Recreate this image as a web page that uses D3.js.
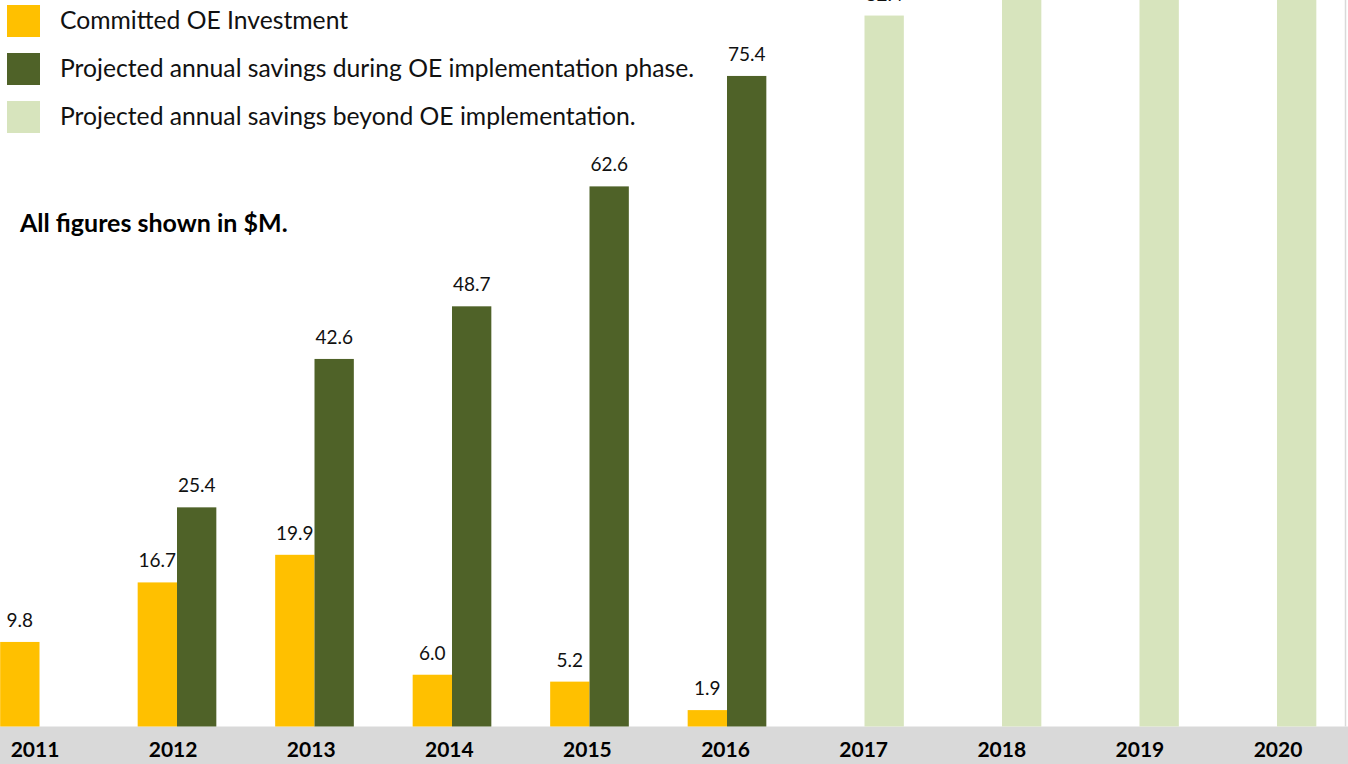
<!DOCTYPE html>
<html>
<head>
<meta charset="utf-8">
<script src="https://cdn.jsdelivr.net/npm/d3@7"></script>
<style>
  html, body { margin: 0; padding: 0; background: #fff; overflow: hidden; }
  svg { display: block; font-family: Lato, "Open Sans", sans-serif; }
</style>
</head>
<body>
<div id="container"></div>
<script>
const years = ["2011", "2012", "2013", "2014", "2015", "2016", "2017", "2018", "2019", "2020"];
const investment = [9.8, 16.7, 19.9, 6.0, 5.2, 1.9, null, null, null, null];
const savingsDuring = [null, 25.4, 42.6, 48.7, 62.6, 75.4, null, null, null, null];
const savingsBeyond = [null, null, null, null, null, null, 82.4, 89.0, 92.0, 95.0];
const legendLabels = [
	"Committed OE Investment",
	"Projected annual savings during OE implementation phase.",
	"Projected annual savings beyond OE implementation."
];
const note = "All figures shown in $M.";

const width = 1348;
const height = 764;
const baseY = 726.5;
const colors = { inv: "#FFC000", during: "#4F6228", beyond: "#D7E4BD" };

const svg = d3.select("#container")
	.append("svg")
		.attr("width", width)
		.attr("height", height);

const x0 = d3.scaleBand()
	.domain(years)
	.range([-29.25, 1345.75]);

const x1 = d3.scaleBand()
	.domain(["inv", "sav"])
	.range([0, x0.bandwidth()])
	.paddingInner(0)
	.paddingOuter(0.748);

const y = d3.scaleLinear()
	.domain([0, 100])
	.range([baseY, baseY - 862.8]);

// label columns of the table under the chart
const xLabel = d3.scalePoint()
	.domain(years)
	.range([35, 1278]);

// table strip under the bars
svg.append("rect")
	.attr("x", 0)
	.attr("y", baseY)
	.attr("width", width)
	.attr("height", height - baseY)
	.style("fill", "#D9D9D9");

// right border of plot
svg.append("line")
	.attr("x1", x0.range()[1] - 0.25)
	.attr("x2", x0.range()[1] - 0.25)
	.attr("y1", 0)
	.attr("y2", baseY)
	.style("stroke", "#D9D9D9")
	.style("stroke-width", 1.5);

const bars = [];
years.forEach((yr, i) => {
	if (investment[i] != null) bars.push({ year: yr, slot: "inv", value: investment[i], color: colors.inv });
	if (savingsDuring[i] != null) bars.push({ year: yr, slot: "sav", value: savingsDuring[i], color: colors.during });
	if (savingsBeyond[i] != null) bars.push({ year: yr, slot: "sav", value: savingsBeyond[i], color: colors.beyond });
});

const items = svg.selectAll(".bar")
	.data(bars)
		.enter()
	.append("g")
		.attr("class", "bar");

items.append("rect")
	.attr("x", (d) => x0(d.year) + x1(d.slot))
	.attr("y", (d) => y(d.value))
	.attr("width", x1.bandwidth())
	.attr("height", (d) => y(0) - y(d.value))
	.style("fill", (d) => d.color);

// value labels, only where the bar top is inside the picture
items.filter((d) => y(d.value) >= 0)
	.append("text")
	.text((d) => d.value.toFixed(1))
	.attr("x", (d) => x0(d.year) + x1(d.slot) + x1.bandwidth() / 2)
	.attr("y", (d) => y(d.value) - 15)
	.attr("text-anchor", "middle")
	.style("font-size", "19px")
	.style("fill", "#111");

// year labels
svg.selectAll(".year")
	.data(years)
		.enter()
	.append("text")
		.attr("class", "year")
		.text((d) => d)
		.attr("x", (d) => xLabel(d))
		.attr("y", 757)
		.attr("text-anchor", "middle")
		.style("font-size", "21px")
		.style("font-weight", "bold")
		.style("fill", "#000");

// legend
const legendColors = [colors.inv, colors.during, colors.beyond];
const legend = svg.selectAll(".legend")
	.data(legendLabels)
		.enter()
	.append("g")
		.attr("class", "legend")
		.attr("transform", (d, i) => `translate(7, ${5 + i * 48})`);

legend.append("rect")
	.attr("width", 33)
	.attr("height", 32)
	.style("fill", (d, i) => legendColors[i]);

legend.append("text")
	.text((d) => d)
	.attr("x", 53)
	.attr("y", 24)
	.style("font-size", "24.7px")
	.style("fill", "#111");

svg.append("text")
	.text(note)
	.attr("x", 20)
	.attr("y", 232)
	.style("font-size", "25px")
	.style("font-weight", "bold")
	.style("fill", "#000");
</script>
</body>
</html>
